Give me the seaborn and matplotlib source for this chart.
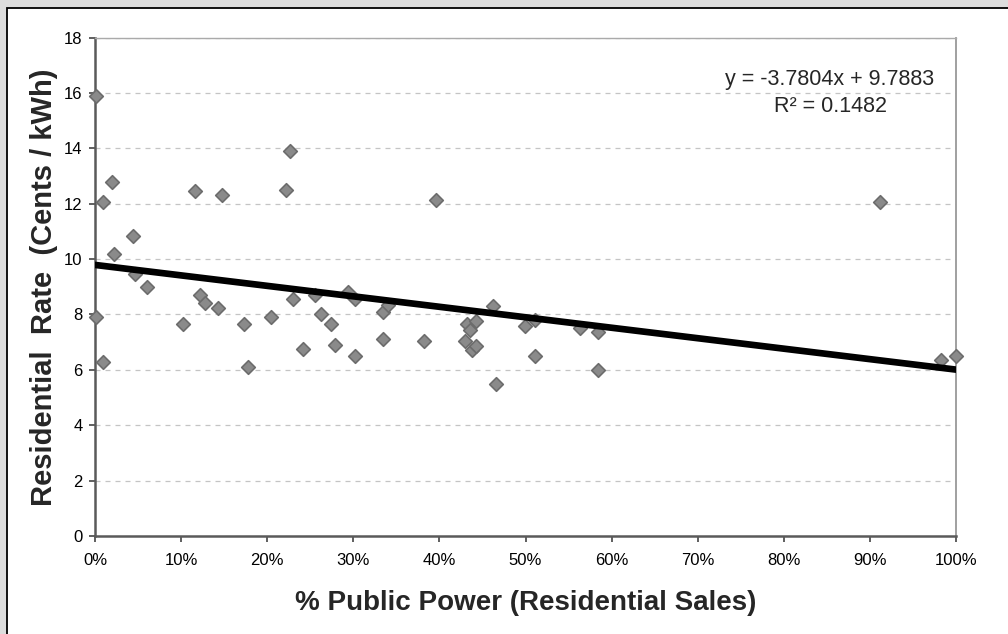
import matplotlib
matplotlib.use("Agg")
import matplotlib.pyplot as plt
from matplotlib.patches import Rectangle
from matplotlib.ticker import PercentFormatter
import pandas as pd
import seaborn as sns

# Share of residential sales served by public power (fraction) vs. residential rate
public_share = [0.001, 0.001, 0.0097, 0.0097, 0.0194, 0.0217, 0.0445, 0.0465, 0.060,
                0.1018, 0.1161, 0.122, 0.1278, 0.1432, 0.1479, 0.1727, 0.1777, 0.2044,
                0.2215, 0.2265, 0.2303, 0.242, 0.2555, 0.2625, 0.2741, 0.2787, 0.2942,
                0.302, 0.302, 0.3341, 0.3407, 0.3341, 0.382, 0.396, 0.4297, 0.4317,
                0.4355, 0.4375, 0.442, 0.442, 0.4626, 0.4654, 0.4994, 0.511, 0.511,
                0.5633, 0.5845, 0.5845, 0.912, 0.982, 1.0]
rate_cents = [15.9, 7.9, 12.05, 6.3, 12.8, 10.2, 10.85, 9.45, 9.0,
              7.65, 12.45, 8.7, 8.4, 8.25, 12.3, 7.65, 6.1, 7.9,
              12.5, 13.9, 8.55, 6.75, 8.7, 8.0, 7.65, 6.9, 8.8,
              8.55, 6.5, 8.1, 8.35, 7.1, 7.05, 12.15, 7.05, 7.65,
              7.45, 6.7, 7.75, 6.85, 8.3, 5.5, 7.6, 7.8, 6.5,
              7.5, 7.35, 6.0, 12.05, 6.35, 6.5]

# Linear trend reported on the chart
trend_slope = -3.7804
trend_intercept = 9.7883
trend_r2 = 0.1482

y_ticks = list(range(0, 19, 2))
x_ticks = [i / 10 for i in range(11)]

df = pd.DataFrame({"share": public_share, "rate": rate_cents})
trend = pd.DataFrame({"share": [0.0, 1.0]})
trend["rate"] = trend_slope * trend["share"] + trend_intercept

sns.set_style("white")
plt.rcParams["font.family"] = ["Liberation Sans", "DejaVu Sans"]

W, H = 1008, 634
fig = plt.figure(figsize=(W / 100, H / 100), dpi=100, facecolor="#dddddd")

# White chart panel with a black frame, kept behind the axes
panel = Rectangle((7 / W, -0.05), 1.1, (H - 8) / H + 0.05,
                  transform=fig.transFigure, facecolor="white",
                  edgecolor="black", linewidth=1.3, zorder=-10)
fig.patches.append(panel)

ax = fig.add_axes([95 / W, (H - 536) / H, (956 - 95) / W, (536 - 37.5) / H])
ax.set_zorder(1)
ax.set_facecolor("white")

sns.scatterplot(data=df, x="share", y="rate", marker="D", s=48,
                color="#8a8a8a", edgecolor="#6c6c6c", linewidth=1.2,
                ax=ax, zorder=3, clip_on=False)
sns.lineplot(data=trend, x="share", y="rate", color="black", linewidth=4.8,
             ax=ax, zorder=4)

ax.set_xlim(0, 1)
ax.set_ylim(0, 18)
ax.set_xticks(x_ticks)
ax.set_yticks(y_ticks)
ax.xaxis.set_major_formatter(PercentFormatter(xmax=1, decimals=0))

ax.yaxis.grid(True, color="#c4c4c4", linestyle=(0, (4, 4)), linewidth=0.9)
ax.xaxis.grid(False)
ax.set_axisbelow(True)

for side in ("left", "bottom"):
    ax.spines[side].set_color("#5a5a5a")
    ax.spines[side].set_linewidth(1.8)
ax.spines["right"].set_color("#999999")
ax.spines["right"].set_linewidth(1.3)
ax.spines["top"].set_color("#aaaaaa")
ax.spines["top"].set_linewidth(1.0)

ax.tick_params(axis="both", which="major", direction="out", length=4, width=1.2,
               color="#444444", labelsize=12, labelcolor="black", pad=5)
ax.tick_params(axis="x", pad=8)
ax.tick_params(left=True, bottom=True)

ax.set_xlabel("% Public Power (Residential Sales)", fontsize=20, fontweight="bold",
              labelpad=16)
ax.set_ylabel("Residential  Rate  (Cents / kWh)", fontsize=21, fontweight="bold",
              labelpad=4)

fig.text(830 / W, (H - 112) / H,
         f"y = {trend_slope:.4f}x + {trend_intercept:.4f}\nR² = {trend_r2:.4f}",
         ha="center", va="baseline", fontsize=15.5,
         linespacing=1.37, multialignment="center", zorder=5)

fig.savefig("out.png", dpi=100, facecolor=fig.get_facecolor())
